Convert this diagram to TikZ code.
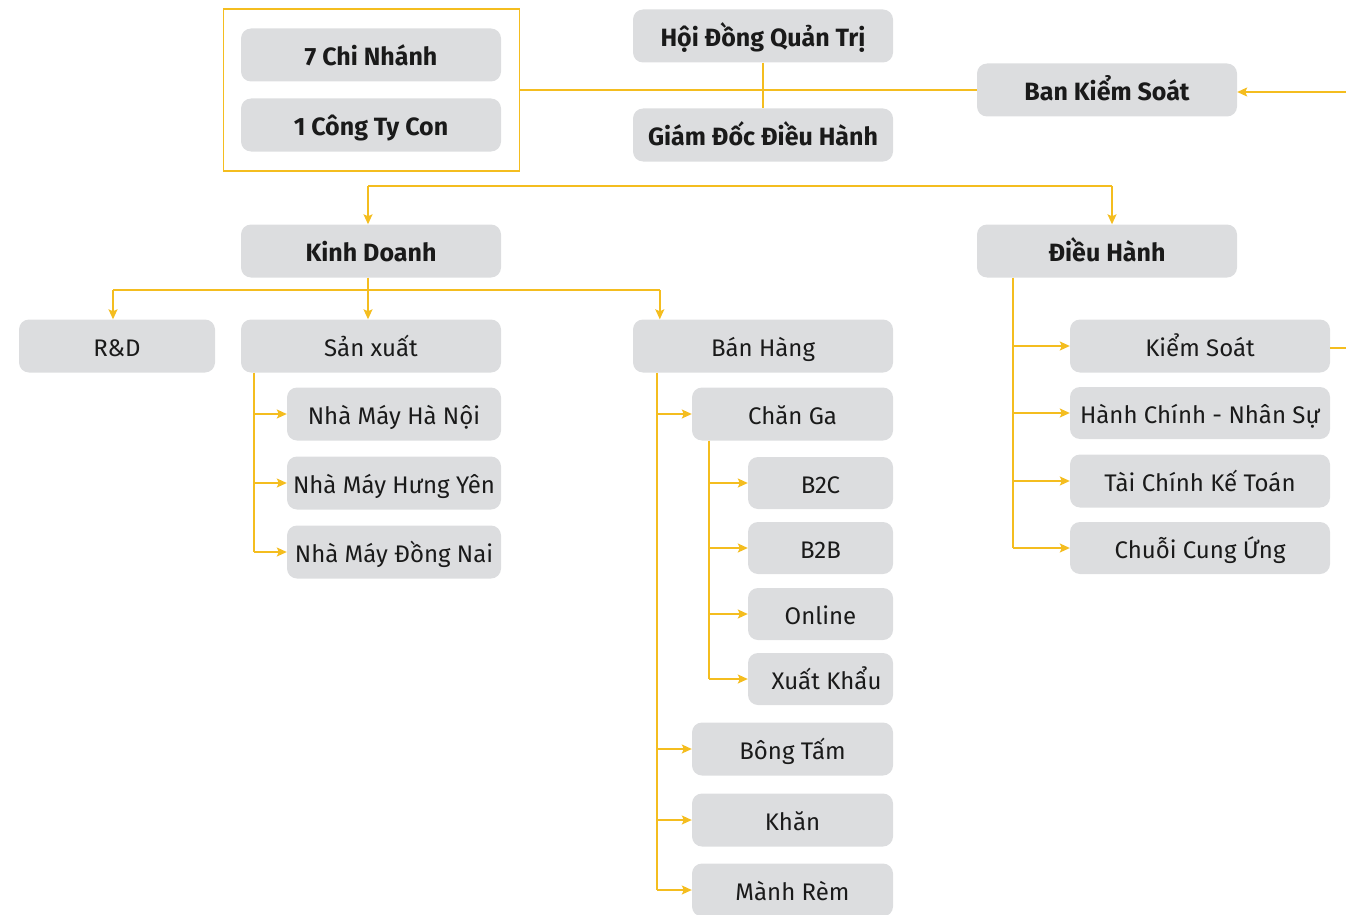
\documentclass[tikz,border=0pt]{standalone}
\usepackage{fontspec}
\setmainfont{Fira Sans}
\usetikzlibrary{arrows.meta,calc}
\definecolor{boxgray}{HTML}{DCDDDF}
\definecolor{gold}{HTML}{F4BD1F}
\definecolor{ink}{HTML}{1A1A1A}
\begin{document}
\begin{tikzpicture}[x=1pt,y=-1pt,
  box/.style={fill=boxgray, rounded corners=10pt, inner sep=0pt, text=ink,
    font=\fontsize{24}{28}\selectfont, minimum height=53pt,
    text height=23pt, text depth=2pt},
  bbox/.style={box, font=\fontsize{25}{29}\selectfont\bfseries},
  link/.style={draw=gold, line width=1.6pt},
  arr/.style={link, -{Stealth[length=10pt,width=9pt,inset=2pt]}}]
\useasboundingbox (0,0) rectangle (1346,915);

% top group
\node[draw=gold, line width=1.8pt, minimum width=296pt, minimum height=162pt, inner sep=0pt] (grp) at (371.5,90) {};
\node[bbox, minimum width=260pt] (chn) at (371,55) {7 Chi Nhánh};
\node[bbox, minimum width=260pt] (ctc) at (371,125) {1 Công Ty Con};
\node[bbox, minimum width=260pt] (hdqt) at (763,36) {Hội Đồng Quản Trị};
\node[bbox, minimum width=260pt] (gddh) at (763,135) {Giám Đốc Điều Hành};
\node[bbox, minimum width=260pt] (bks) at (1107,90) {Ban Kiểm Soát};

\draw[link] (grp.east) -- (bks.west);
\draw[link] (hdqt.south) -- (gddh.north);
\coordinate (rightin) at (1346,92);
\draw[arr] (rightin) -- (rightin -| bks.east);

% level 2
\node[bbox, minimum width=260pt] (kd) at (371,251) {Kinh Doanh};
\node[bbox, minimum width=260pt] (dh) at (1107,251) {Điều Hành};
\coordinate (hbar) at (0,186);
\coordinate (kdn) at ([xshift=-3pt]kd.north);
\coordinate (dhn) at ([xshift=5pt]dh.north);
\draw[link] (hbar -| kdn) -- (hbar -| dhn);
\draw[arr] (hbar -| kdn) -- (kdn);
\draw[arr] (hbar -| dhn) -- (dhn);

% Kinh Doanh children
\node[box, minimum width=196pt] (rd) at (117,346) {R\&D};
\node[box, minimum width=260pt] (sx) at (371,346) {Sản xuất};
\node[box, minimum width=260pt] (bh) at (763,346) {Bán Hàng};
\coordinate (kdbar) at (0,290);
\coordinate (kds) at ([xshift=-3pt]kd.south);
\coordinate (rdn) at ([xshift=-4pt]rd.north);
\coordinate (sxn) at ([xshift=-3pt]sx.north);
\coordinate (bhn) at ([xshift=27pt]bh.north west);
\draw[link] (kds) -- (kdbar -| kds);
\draw[link] (kdbar -| rdn) -- (kdbar -| bhn);
\draw[arr] (kdbar -| rdn) -- (rdn);
\draw[arr] (kdbar -| sxn) -- (sxn);
\draw[arr] (kdbar -| bhn) -- (bhn);

% San xuat children
\node[box, minimum width=214pt] (nmhn) at (394,414) {Nhà Máy Hà Nội};
\node[box, minimum width=214pt] (nmhy) at (394,483) {Nhà Máy Hưng Yên};
\node[box, minimum width=214pt] (nmdn) at (394,552) {Nhà Máy Đồng Nai};
\coordinate (sxt) at ([xshift=13pt]sx.south west);
\draw[link] (sxt) -- (sxt |- nmdn.west);
\draw[arr] (sxt |- nmhn.west) -- (nmhn.west);
\draw[arr] (sxt |- nmhy.west) -- (nmhy.west);
\draw[arr] (sxt |- nmdn.west) -- (nmdn.west);

% Ban Hang children
\node[box, minimum width=201pt] (cg) at (792.5,414) {Chăn Ga};
\node[box, minimum width=201pt] (bt) at (792.5,749) {Bông Tấm};
\node[box, minimum width=201pt] (kh) at (792.5,820) {Khăn};
\node[box, minimum width=201pt] (mr) at (792.5,890) {Mành Rèm};
\coordinate (bht) at ([xshift=24pt]bh.south west);
\draw[link] (bht) -- (bht |- mr.west);
\draw[arr] (bht |- cg.west) -- (cg.west);
\draw[arr] (bht |- bt.west) -- (bt.west);
\draw[arr] (bht |- kh.west) -- (kh.west);
\draw[arr] (bht |- mr.west) -- (mr.west);

% Chan Ga children
\node[box, minimum width=145pt, minimum height=52pt] (b2c) at (820.5,483) {B2C};
\node[box, minimum width=145pt, minimum height=52pt] (b2b) at (820.5,548) {B2B};
\node[box, minimum width=145pt, minimum height=52pt] (onl) at (820.5,614) {Online};
\node[box, minimum width=145pt, minimum height=52pt] (xk) at (820.5,679) {\hspace*{12pt}Xuất Khẩu};
\coordinate (cgt) at ([xshift=17pt]cg.south west);
\draw[link] (cgt) -- (cgt |- xk.west);
\draw[arr] (cgt |- b2c.west) -- (b2c.west);
\draw[arr] (cgt |- b2b.west) -- (b2b.west);
\draw[arr] (cgt |- onl.west) -- (onl.west);
\draw[arr] (cgt |- xk.west) -- (xk.west);

% Dieu Hanh children
\node[box, minimum width=260pt] (ks) at (1200,346) {Kiểm Soát};
\node[box, minimum width=260pt, minimum height=52pt] (hc) at (1200,413) {Hành Chính - Nhân Sự};
\node[box, minimum width=260pt] (tc) at (1200,481) {Tài Chính Kế Toán};
\node[box, minimum width=260pt, minimum height=52pt] (cc) at (1200,548) {Chuỗi Cung Ứng};
\coordinate (dht) at ([xshift=36pt]dh.south west);
\draw[link] (dht) -- (dht |- cc.west);
\draw[arr] (dht |- ks.west) -- (ks.west);
\draw[arr] (dht |- hc.west) -- (hc.west);
\draw[arr] (dht |- tc.west) -- (tc.west);
\draw[arr] (dht |- cc.west) -- (cc.west);
\coordinate (rightout) at (1346,348);
\draw[link] (ks.east |- rightout) -- (rightout);
\end{tikzpicture}
\end{document}
